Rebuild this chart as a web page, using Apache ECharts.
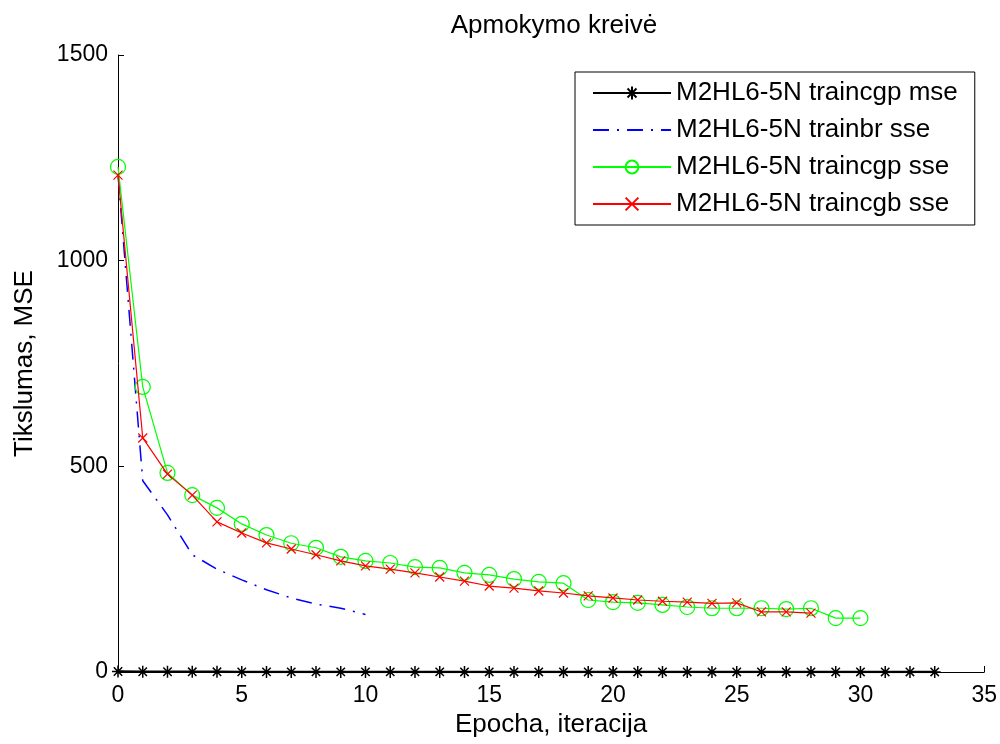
<!DOCTYPE html>
<html>
<head>
<meta charset="utf-8">
<script src="https://cdn.jsdelivr.net/npm/echarts@6/dist/echarts.min.js"></script>
<style>
html,body{margin:0;padding:0;background:#fff;}
#chart{width:1000px;height:744px;}
</style>
</head>
<body>
<div id="chart"></div>
<script>
// ---- data ----
var seriesNames = ['M2HL6-5N traincgp mse', 'M2HL6-5N trainbr sse', 'M2HL6-5N traincgp sse', 'M2HL6-5N traincgb sse'];
// traincgp mse, epochs 0..33 (values near zero)
var cgpMse = [1.2, 0.7, 0.5, 0.4, 0.4, 0.3, 0.3, 0.3, 0.3, 0.3, 0.3, 0.3, 0.3, 0.3, 0.2, 0.2, 0.2, 0.2, 0.2, 0.2, 0.2, 0.2, 0.2, 0.2, 0.2, 0.2, 0.2, 0.2, 0.2, 0.2, 0.2, 0.2, 0.2, 0.2];
// trainbr sse, epochs 0..10
var brSse = [1210, 465, 382, 285, 250, 224, 200, 180, 165, 155, 140];
// traincgp sse, epochs 0..30
var cgpSse = [1228, 693, 484, 430, 399, 360, 333, 313, 302, 280, 270, 265, 255, 253, 241, 236, 226, 219, 216, 175, 170, 168, 163, 158, 155, 155, 155, 153, 155, 131, 131];
// traincgb sse, epochs 0..28
var cgbSse = [1208, 569, 481, 430, 365, 338, 314, 299, 285, 270, 258, 250, 241, 231, 221, 209, 204, 197, 192, 185, 180, 175, 172, 170, 167, 168, 146, 146, 143];
var xTicks = [0, 5, 10, 15, 20, 25, 30, 35];
var yTicks = [0, 500, 1000, 1500];
var titleText = 'Apmokymo kreivė';
var xName = 'Epocha, iteracija';
var yName = 'Tikslumas, MSE';

function pairs(arr) { return arr.map(function (v, i) { return [i, v]; }); }

var FONT = '"Liberation Sans", Arial, sans-serif';
var FS = 26;
var TFS = 23;

var chart = echarts.init(document.getElementById('chart'), null, {renderer: 'canvas'});
chart.setOption({
  animation: false,
  backgroundColor: '#fff',
  title: {
    text: titleText,
    left: 549, textAlign: 'center', top: 8,
    textStyle: {fontFamily: FONT, fontSize: FS, fontWeight: 'normal', color: '#000'}
  },
  grid: {left: 118, right: 15, top: 55, bottom: 72},
  legend: {
    orient: 'vertical',
    left: 575, top: 72,
    padding: [7, 17, 7, 17],
    itemGap: 9,
    itemWidth: 78, itemHeight: 16,
    backgroundColor: '#fff',
    borderColor: '#000', borderWidth: 1, borderRadius: 0,
    textStyle: {fontFamily: FONT, fontSize: FS, color: '#000', lineHeight: 28},
    data: [
      {name: seriesNames[0]},
      {name: seriesNames[1], itemStyle: {opacity: 0}},
      {name: seriesNames[2]},
      {name: seriesNames[3]}
    ]
  },
  xAxis: {
    type: 'value', min: xTicks[0], max: xTicks[xTicks.length - 1], interval: 5,
    name: xName, nameLocation: 'middle', nameGap: 40,
    nameTextStyle: {fontFamily: FONT, fontSize: FS, color: '#000'},
    axisLine: {show: true, onZero: false, lineStyle: {color: '#000', width: 1}},
    axisTick: {show: true, inside: true, length: 6, lineStyle: {color: '#000'}},
    axisLabel: {fontFamily: FONT, fontSize: TFS, color: '#000', margin: 12},
    splitLine: {show: false}
  },
  yAxis: {
    type: 'value', min: yTicks[0], max: yTicks[yTicks.length - 1], interval: 500,
    name: yName, nameLocation: 'middle', nameGap: 80, nameRotate: 90,
    nameTextStyle: {fontFamily: FONT, fontSize: FS, color: '#000'},
    axisLine: {show: true, lineStyle: {color: '#000', width: 1}},
    axisTick: {show: true, inside: true, length: 6, lineStyle: {color: '#000'}},
    axisLabel: {fontFamily: FONT, fontSize: TFS, color: '#000', margin: 10,
      formatter: function (v) { return String(v); }},
    splitLine: {show: false}
  },
  series: [
    {
      name: seriesNames[0], type: 'line', data: pairs(cgpMse),
      symbol: 'path://M0,-10L0,10M-10,0L10,0M-7,-7L7,7M-7,7L7,-7',
      symbolSize: 12, showAllSymbol: true,
      lineStyle: {color: '#000', width: 2.5},
      itemStyle: {color: '#000', borderColor: '#000', borderWidth: 1.5},
      z: 2
    },
    {
      name: seriesNames[1], type: 'line', data: pairs(brSse),
      symbol: 'none',
      lineStyle: {color: '#0000ff', width: 1.5, type: [16, 8, 2, 8]},
      itemStyle: {color: '#0000ff'},
      z: 3
    },
    {
      name: seriesNames[2], type: 'line', data: pairs(cgpSse),
      symbol: 'circle', symbolSize: 15, showAllSymbol: true,
      lineStyle: {color: '#00ff00', width: 1.2},
      itemStyle: {color: 'rgba(0,0,0,0)', borderColor: '#00ff00', borderWidth: 1.2},
      z: 4
    },
    {
      name: seriesNames[3], type: 'line', data: pairs(cgbSse),
      symbol: 'path://M-5,-5L5,5M-5,5L5,-5',
      symbolSize: 9, showAllSymbol: true,
      lineStyle: {color: '#ff0000', width: 1.2},
      itemStyle: {color: '#ff0000', borderColor: '#ff0000', borderWidth: 1.2},
      z: 5
    }
  ]
});
</script>
</body>
</html>
